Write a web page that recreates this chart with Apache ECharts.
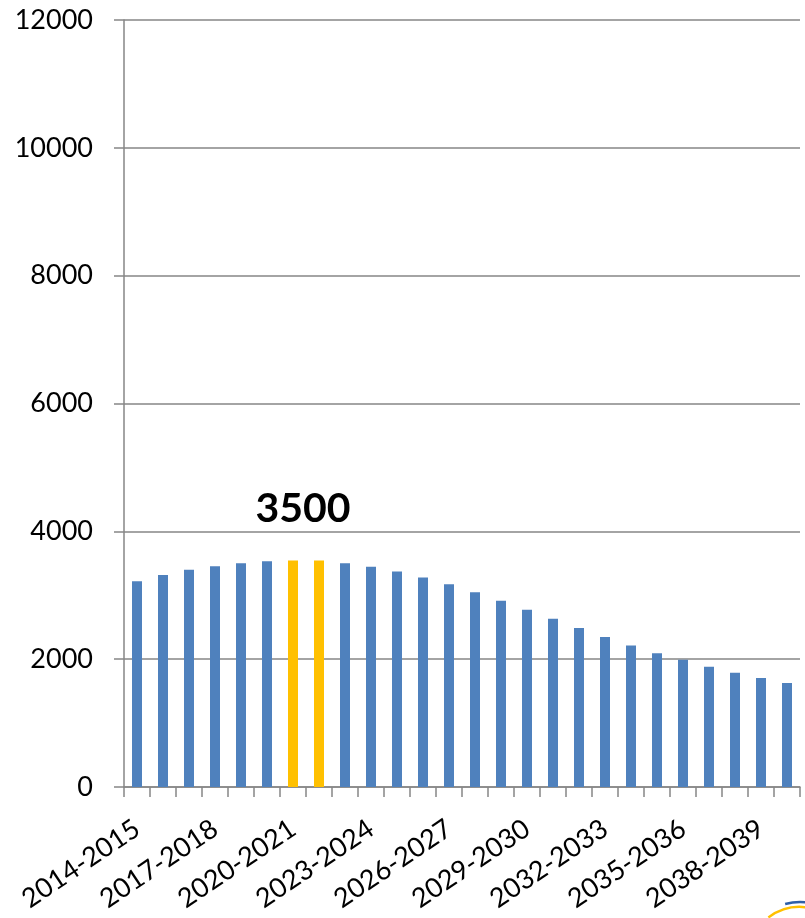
<!DOCTYPE html>
<html>
<head>
<meta charset="utf-8">
<style>
  html, body { margin: 0; padding: 0; background: #fff; }
  #chart { width: 805px; height: 918px; }
</style>
<script src="https://cdn.jsdelivr.net/npm/echarts@6/dist/echarts.min.js"></script>
</head>
<body>
<div id="chart"></div>
<script>
// school years on the x axis
var years = [
    '2014-2015', '2015-2016', '2016-2017', '2017-2018', '2018-2019', '2019-2020',
    '2020-2021', '2021-2022', '2022-2023', '2023-2024', '2024-2025', '2025-2026',
    '2026-2027', '2027-2028', '2028-2029', '2029-2030', '2030-2031', '2031-2032',
    '2032-2033', '2033-2034', '2034-2035', '2035-2036', '2036-2037', '2037-2038',
    '2038-2039', '2039-2040'
];
var values = [
    3220, 3315, 3400, 3455, 3500, 3530, 3545, 3545, 3500, 3445, 3372, 3278,
    3173, 3045, 2913, 2773, 2632, 2488, 2347, 2212, 2093, 1990, 1880, 1787,
    1704, 1626
];
// highlighted years (gold bars)
var highlight = ['2020-2021', '2021-2022'];
var peakLabel = '3500';

var blue = '#4F81BD';
var gold = '#FFC000';
var grey = '#868686';
var font = 'Lato';

var chart = echarts.init(document.getElementById('chart'));

var barData = [];
for (var i = 0; i < values.length; i++) {
    barData.push({
        value: values[i],
        itemStyle: { color: highlight.indexOf(years[i]) >= 0 ? gold : blue }
    });
}

chart.setOption({
    animation: false,
    backgroundColor: '#ffffff',
    grid: { left: 124, right: 5, top: 20, bottom: 131, outerBoundsMode: 'none', containLabel: false },
    xAxis: {
        type: 'category',
        data: years,
        boundaryGap: true,
        axisLine: { lineStyle: { color: grey, width: 1.5 } },
        axisTick: { show: true, interval: 0, length: 10, lineStyle: { color: grey, width: 1.5 } },
        axisLabel: {
            interval: 2,
            rotate: 34,
            margin: 39,
            color: '#000',
            fontFamily: font,
            fontSize: 27
        }
    },
    yAxis: {
        type: 'value',
        min: 0,
        max: 12000,
        interval: 2000,
        axisLine: { show: true, lineStyle: { color: grey, width: 1.5 } },
        axisTick: { show: true, length: 10, lineStyle: { color: grey, width: 1.5 } },
        axisLabel: {
            margin: 31, color: '#000', fontFamily: font, fontSize: 27,
            formatter: function (v) { return String(v); }
        },
        splitLine: { lineStyle: { color: grey, width: 1.5 } }
    },
    series: [{
        type: 'bar',
        data: barData,
        barWidth: 10
    }]
});

// big label centred over the two highlighted bars
var p1 = chart.convertToPixel({ xAxisIndex: 0, yAxisIndex: 0 }, [highlight[0], 3500]);
var p2 = chart.convertToPixel({ xAxisIndex: 0, yAxisIndex: 0 }, [highlight[1], 3500]);
chart.setOption({
    graphic: [{
        type: 'text',
        x: (p1[0] + p2[0]) / 2 - 3,
        y: p1[1] - 55,
        style: {
            text: peakLabel,
            fill: '#000',
            font: 'bold 41px Lato',
            align: 'center',
            verticalAlign: 'middle'
        }
    }, {
        // corner logo, mostly cut off
        type: 'arc',
        shape: { cx: 800, cy: 960, r: 53, startAngle: -2.21, endAngle: -1.35 },
        style: { stroke: gold, lineWidth: 2.5, fill: null }
    }, {
        type: 'arc',
        shape: { cx: 800, cy: 960, r: 58, startAngle: -1.83, endAngle: -1.3 },
        style: { stroke: '#2E5FA8', lineWidth: 2.5, fill: null }
    }]
});
</script>
</body>
</html>
